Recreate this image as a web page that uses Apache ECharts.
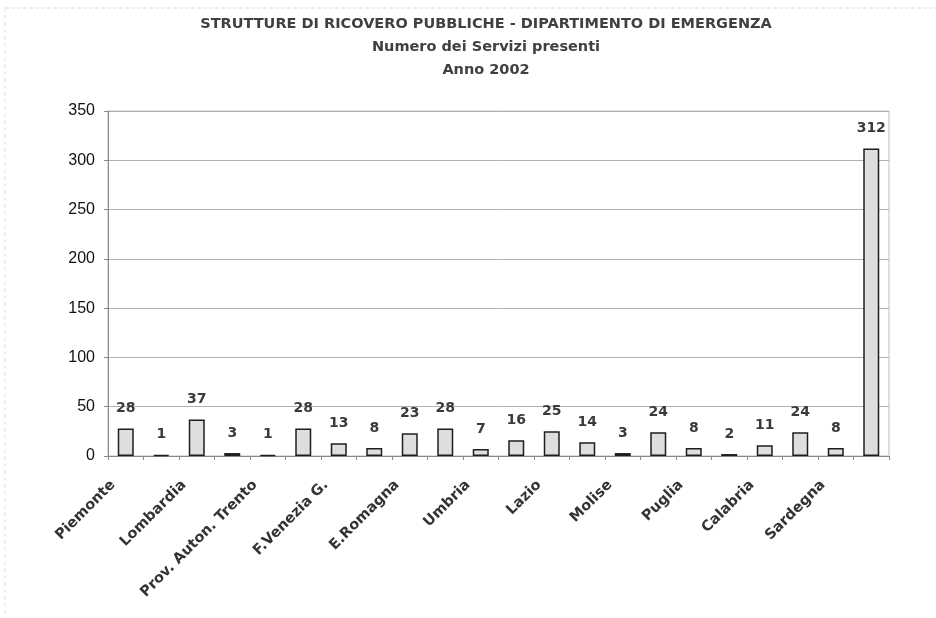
<!DOCTYPE html>
<html>
<head>
<meta charset="utf-8">
<script src="https://cdn.jsdelivr.net/npm/echarts@6/dist/echarts.min.js"></script>
<style>
  html, body { margin: 0; padding: 0; background: #fff; }
  #chart { width: 936px; height: 618px; }
</style>
</head>
<body>
<div id="chart"></div>
<script>
// Regioni e province autonome, più il totale nazionale
const categories = [
  'Piemonte', "Valle d'Aosta", 'Lombardia', 'Prov. Auton. Bolzano', 'Prov. Auton. Trento',
  'Veneto', 'F.Venezia G.', 'Liguria', 'E.Romagna', 'Toscana', 'Umbria', 'Marche',
  'Lazio', 'Abruzzo', 'Molise', 'Campania', 'Puglia', 'Basilicata', 'Calabria',
  'Sicilia', 'Sardegna', 'Italia'
];

// Numero dei servizi di emergenza presenti, anno 2002
const servizi = [28, 1, 37, 3, 1, 28, 13, 8, 23, 28, 7, 16, 25, 14, 3, 24, 8, 2, 11, 24, 8, 312];

const yTicks = { min: 0, max: 350, interval: 50 };

const titleLines = [
  'STRUTTURE DI RICOVERO PUBBLICHE - DIPARTIMENTO DI EMERGENZA',
  'Numero dei Servizi presenti',
  'Anno 2002'
];

const chart = echarts.init(document.getElementById('chart'), null, { renderer: 'canvas' });

const boldFont = '"DejaVu Sans", "Liberation Sans", Arial, sans-serif';
const plainFont = '"Liberation Sans", Arial, sans-serif';

chart.setOption({
  animation: false,
  backgroundColor: '#ffffff',
  title: titleLines.map((t, i) => ({
    text: t,
    left: 481,
    textAlign: 'center',
    top: 12 + i * 23,
    textStyle: {
      fontFamily: boldFont,
      fontSize: 14.5,
      fontWeight: 'bold',
      color: '#404040'
    }
  })),
  graphic: [
    { type: 'line', shape: { x1: 5, y1: 8, x2: 936, y2: 8 }, style: { stroke: '#d8d8d8', lineWidth: 1, lineDash: [4, 2] } },
    { type: 'line', shape: { x1: 5, y1: 8, x2: 5, y2: 618 }, style: { stroke: '#e0e0e0', lineWidth: 1, lineDash: [4, 3] } }
  ],
  grid: {
    left: 108,
    right: 47,
    top: 111,
    bottom: 162,
    show: true,
    borderColor: '#bdbdbd',
    borderWidth: 1,
    containLabel: false
  },
  xAxis: {
    type: 'category',
    data: categories,
    boundaryGap: true,
    axisLine: { lineStyle: { color: '#8a8a8a', width: 1 } },
    axisTick: { show: true, interval: 0, length: 4, lineStyle: { color: '#8a8a8a' } },
    axisLabel: {
      interval: 1,
      rotate: 45,
      margin: 14,
      padding: [0, 18, 0, 0],
      fontFamily: boldFont,
      fontSize: 14.5,
      fontWeight: 'bold',
      color: '#333'
    },
    splitLine: { show: false }
  },
  yAxis: {
    type: 'value',
    min: yTicks.min,
    max: yTicks.max,
    interval: yTicks.interval,
    axisLine: { show: true, lineStyle: { color: '#8a8a8a', width: 1 } },
    axisTick: { show: true, length: 4, lineStyle: { color: '#8a8a8a' } },
    axisLabel: {
      margin: 13,
      fontFamily: plainFont,
      fontSize: 16,
      color: '#111'
    },
    splitLine: { show: true, lineStyle: { color: '#b0b0b0', width: 1 } }
  },
  series: [{
    type: 'bar',
    data: servizi,
    barWidth: 16,
    itemStyle: {
      color: '#dedede',
      borderColor: '#1e1e1e',
      borderWidth: 1.5
    },
    label: {
      show: true,
      position: 'top',
      distance: 13,
      fontFamily: boldFont,
      fontSize: 14,
      fontWeight: 'bold',
      color: '#3a3a3a'
    }
  }]
});
</script>
</body>
</html>
